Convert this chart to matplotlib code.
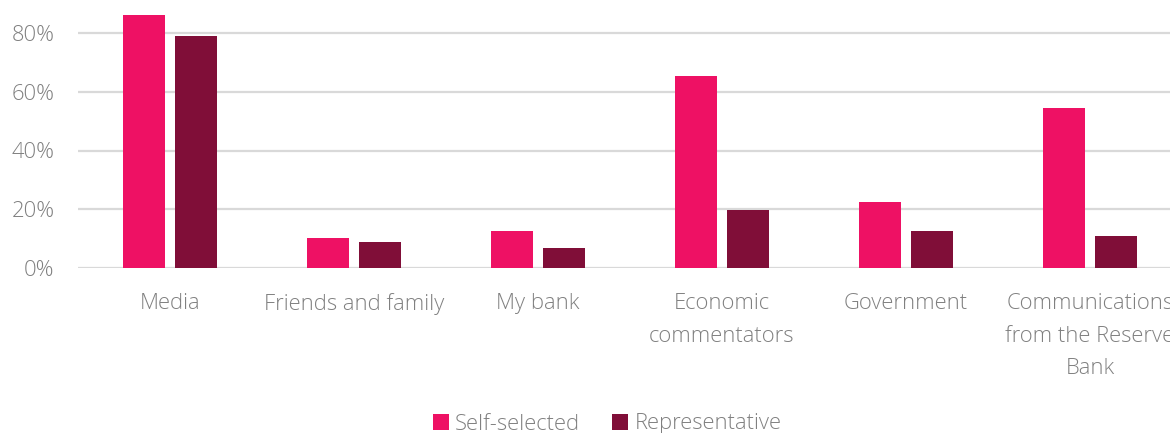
import numpy as np
import matplotlib.pyplot as plt

categories = ['Media', 'Friends and family', 'My bank', 'Economic\ncommentators',
              'Government', 'Communications\nfrom the Reserve\nBank']
self_selected = [86.0, 10.2, 12.6, 65.5, 22.3, 54.6]
representative = [79.0, 8.9, 6.8, 19.9, 12.6, 10.9]
yticks = [0, 20, 40, 60, 80]

plt.rcParams['font.family'] = ['Open Sans', 'DejaVu Sans']
plt.rcParams['font.weight'] = 'light'
txt = '#808080'
fs = 15.8

fig = plt.figure(figsize=(11.7, 4.33), dpi=100)
# axes run past the right and top edge of the canvas
ax = fig.add_axes([78 / 1170, 1 - 268 / 433, 1104 / 1170, 293.75 / 433])

x = np.arange(len(categories))
w = 0.228
ax.bar(x - 0.143, self_selected, w, color='#EE1164', label='Self-selected', zorder=3)
ax.bar(x + 0.143, representative, w, color='#800E38', label='Representative', zorder=3)

ax.set_xlim(-0.5, len(categories) - 0.5)
ax.set_ylim(0, 100)
ax.set_yticks(yticks)
ax.set_yticklabels([f'{v}%' for v in yticks])
ax.set_xticks(x)
ax.set_xticklabels(categories, linespacing=1.72)
ax.grid(axis='y', color='#d9d9d9', linewidth=1.6, zorder=0)
ax.axhline(100, color='#d9d9d9', linewidth=1.6, zorder=0)
ax.set_axisbelow(True)
for s in ax.spines.values():
    s.set_visible(False)
ax.tick_params(axis='both', length=0, labelsize=fs, labelcolor=txt)
ax.tick_params(axis='y', pad=17)
ax.tick_params(axis='x', pad=18)

fig.legend(loc='center', bbox_to_anchor=(0.519, 1 - 424 / 433), ncol=2, frameon=False,
           fontsize=fs, labelcolor=txt, handlelength=0.72, handleheight=0.72,
           handletextpad=0.3, columnspacing=1.45, borderpad=0)

fig.savefig('out.png', dpi=100)
